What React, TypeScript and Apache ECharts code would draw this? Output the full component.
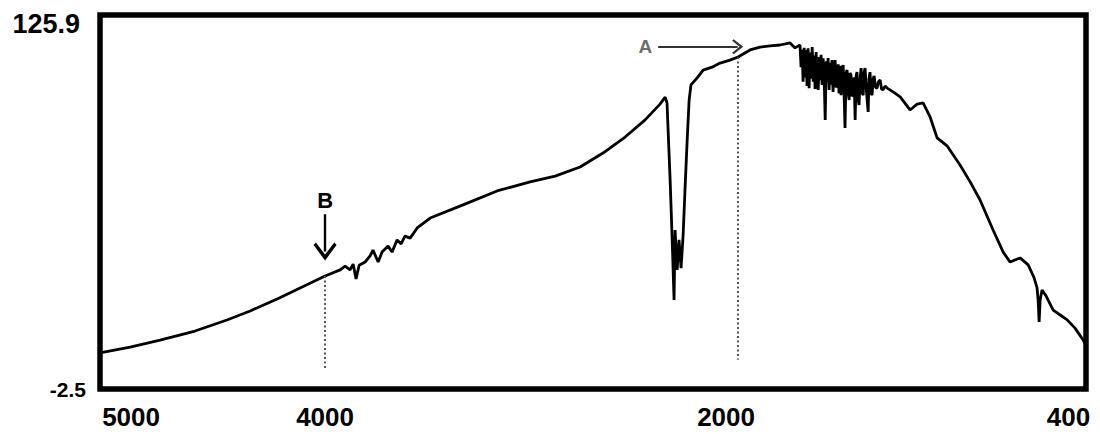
import React, { useEffect, useRef } from "react";
import * as echarts from "echarts";

const wavenumbers = [
  5090, 4944, 4799, 4630, 4475, 4363, 4232, 4121, 4000,
  3927, 3903, 3879, 3864, 3850, 3835, 3806, 3782, 3768, 3743,
  3724, 3695, 3676, 3651, 3632, 3613, 3588, 3554, 3491, 3332,
  3167, 3007, 2886, 2765, 2654, 2547, 2450, 2378, 2353, 2344,
  2329, 2319, 2310, 2305, 2295, 2286, 2276, 2266, 2257, 2247,
  2237, 2228, 2198, 2169, 2126, 2087, 2039, 2000, 1942, 1893,
  1845, 1797, 1748, 1724, 1700,
  1695, 1690, 1685, 1680, 1675, 1671, 1666, 1661, 1656, 1651,
  1646, 1641, 1636, 1632, 1627, 1622, 1617, 1612, 1607, 1603,
  1598, 1593, 1588, 1583, 1578, 1573, 1569, 1564, 1559, 1554,
  1549, 1545, 1540, 1535, 1530, 1525, 1520, 1515, 1511, 1506,
  1501, 1496, 1491, 1487, 1482, 1477, 1472, 1467, 1462, 1458,
  1453, 1448, 1443, 1438, 1433, 1428, 1424, 1419, 1414, 1409,
  1404, 1399, 1394, 1390, 1385, 1378, 1370, 1366, 1361, 1356,
  1351, 1346, 1341, 1334, 1327, 1320, 1312, 1305, 1298, 1288,
  1278, 1249, 1215, 1167, 1133, 1104, 1070, 1036,
  988, 925, 876, 828, 765, 716, 683, 634, 595, 566,
  552, 547, 542, 537, 528, 508, 474, 440, 406, 368,
  329, 315,
];

// Transmittance (%T) at each wavenumber
const transmittance = [
  9.9, 11.9, 14.3, 17.4, 21.2, 24.3, 28.4, 32.2, 36.3,
  38.4, 39.7, 38.4, 40.4, 35.3, 40.0, 41.1, 43.2, 45.2, 41.1,
  44.5, 46.6, 44.5, 48.7, 47.3, 50.0, 49.3, 52.8, 56.2, 60.7,
  65.5, 68.6, 70.6, 73.7, 78.5, 84.0, 89.9, 95.3, 97.7, 95.7,
  69.3, 48.7, 28.1, 52.1, 38.4, 48.7, 39.0, 50.4, 65.8, 82.0,
  96.7, 101.9, 104.3, 107.0, 108.0, 109.4, 110.4, 111.5, 113.9, 114.9,
  115.3, 115.6, 116.3, 114.6, 115.6,
  108.0, 114.0, 103.0, 114.6, 104.5, 113.9, 101.5, 114.5, 100.8, 113.0,
  104.0, 114.9, 103.0, 112.0, 100.5, 113.2, 103.0, 100.2, 111.5, 103.5,
  112.2, 101.9, 111.0, 104.0, 89.9, 110.0, 103.0, 111.1, 100.2, 109.5,
  102.0, 110.4, 99.5, 108.0, 110.4, 101.0, 101.9, 109.0, 99.0, 108.5,
  98.4, 107.0, 108.7, 100.0, 87.1, 106.0, 107.0, 99.0, 96.7, 106.0,
  105.3, 98.0, 98.4, 104.5, 89.9, 105.0, 106.3, 97.0, 95.0, 104.0,
  107.7, 99.0, 98.4, 106.0, 107.7, 99.5, 92.6, 104.0, 106.3, 99.0,
  98.4, 104.0, 105.0, 101.0, 100.8, 103.0, 103.6, 100.5, 100.2, 101.5,
  100.8, 99.5, 97.8, 93.3, 95.3, 95.7, 90.9, 83.7,
  81.0, 74.4, 68.6, 62.4, 52.1, 44.5, 41.1, 42.5, 40.1, 35.6,
  32.2, 28.1, 20.5, 28.1, 31.5, 29.4, 24.6, 22.9, 21.2, 18.4,
  14.3, 12.6,
];

const xTickValues = [5000, 4000, 2000, 400];
const yTickValues = [-2.5, 125.9];
const xRange = [315, 5090];
const yRange = [-2.5, 125.9];

// Annotation B: vertical arrow pointing down at 4000 cm-1, dotted drop line
const markerB = { label: "B", x: 4000, arrowFrom: 57.5, arrowTo: 44.7, dropFrom: 36.3, dropTo: 4.0 };
// Annotation A: horizontal arrow pointing right, dotted drop line at 2000 cm-1
const markerA = { label: "A", y: 115.0, arrowFrom: 2387, arrowTo: 2002, x: 2000, dropFrom: 111.5, dropTo: 7.5 };

const chevron = "path://M0,0 L12,12 L9.6,14 L0,4.6 L-9.6,14 L-12,12 Z";
const FONT = "'Liberation Sans', Arial, sans-serif";

export default function App() {
  const ref = useRef<HTMLDivElement>(null);

  useEffect(() => {
    if (!ref.current) return;
    const chart = echarts.init(ref.current, null, { renderer: "svg" });
    const data = wavenumbers.map((w, i) => [w, transmittance[i]]);

    const xl = { fontFamily: FONT, fontWeight: "bold", fontSize: 26, lineHeight: 26, color: "#000" };

    chart.setOption({
      animation: false,
      backgroundColor: "#fff",
      grid: {
        left: 100,
        right: 14,
        top: 15,
        bottom: 45,
        show: true,
        borderColor: "#000",
        borderWidth: 5.5,
        backgroundColor: "transparent",
      },
      xAxis: {
        type: "value",
        inverse: true,
        min: xRange[0],
        max: xRange[1],
        axisLine: { show: false },
        axisTick: { show: false },
        splitLine: { show: false },
        axisLabel: {
          customValues: xTickValues,
          margin: 15,
          formatter: (v: number) => {
            if (v === 5000) return "{l|" + v + "}";
            if (v === 2000) return "{r|" + v + "}";
            return "{n|" + v + "}";
          },
          rich: {
            n: { ...xl },
            l: { ...xl, padding: [0, 0, 0, 25] },
            r: { ...xl, padding: [0, 24, 0, 0] },
          },
        },
      },
      yAxis: {
        type: "value",
        min: yRange[0],
        max: yRange[1],
        axisLine: { show: false },
        axisTick: { show: false },
        splitLine: { show: false },
        axisLabel: {
          customValues: yTickValues,
          margin: 14,
          formatter: (v: number) => (v > 60 ? "{a|" + v + "}" : "{b|" + v + "}"),
          rich: {
            a: { fontFamily: FONT, fontWeight: "bold", fontSize: 27, color: "#000", padding: [18, 6, 0, 0] },
            b: { fontFamily: FONT, fontWeight: "bold", fontSize: 21, color: "#000" },
          },
        },
      },
      series: [
        {
          type: "line",
          data,
          showSymbol: false,
          symbol: "none",
          lineStyle: { color: "#000", width: 2.8 },
          emphasis: { disabled: true },
          markLine: {
            silent: true,
            symbol: ["none", "none"],
            label: { show: false },
            emphasis: { disabled: true },
            data: [
              [
                {
                  coord: [markerB.x, markerB.dropFrom],
                  lineStyle: { color: "#444", width: 1.8, type: [2, 2.5] },
                },
                { coord: [markerB.x, markerB.dropTo] },
              ],
              [
                {
                  coord: [markerA.x, markerA.dropFrom],
                  lineStyle: { color: "#444", width: 1.8, type: [2, 2.5] },
                },
                { coord: [markerA.x, markerA.dropTo] },
              ],
              [
                {
                  coord: [markerB.x, markerB.arrowFrom],
                  symbol: "none",
                  lineStyle: { color: "#000", width: 2.4, type: "solid" },
                  label: {
                    show: true,
                    position: "start",
                    formatter: markerB.label,
                    fontFamily: FONT,
                    fontWeight: "bold",
                    fontSize: 22,
                    color: "#000",
                    distance: 3,
                  },
                },
                { coord: [markerB.x, markerB.arrowTo], symbol: chevron, symbolSize: [23, 18] },
              ],
              [
                {
                  coord: [markerA.arrowFrom, markerA.y],
                  symbol: "none",
                  lineStyle: { color: "#333", width: 2.2, type: "solid" },
                  label: {
                    show: true,
                    position: "start",
                    formatter: markerA.label,
                    fontFamily: FONT,
                    fontWeight: "bold",
                    fontSize: 19,
                    color: "#6e6e6e",
                    distance: 6,
                  },
                },
                { coord: [markerA.arrowTo, markerA.y], symbol: chevron, symbolSize: [15, 11] },
              ],
            ],
          },
        },
      ],
    });

    return () => chart.dispose();
  }, []);

  return (
    <div
      ref={ref}
      style={{ position: "fixed", left: 0, top: 0, width: 1100, height: 434, background: "#fff" }}
    />
  );
}
